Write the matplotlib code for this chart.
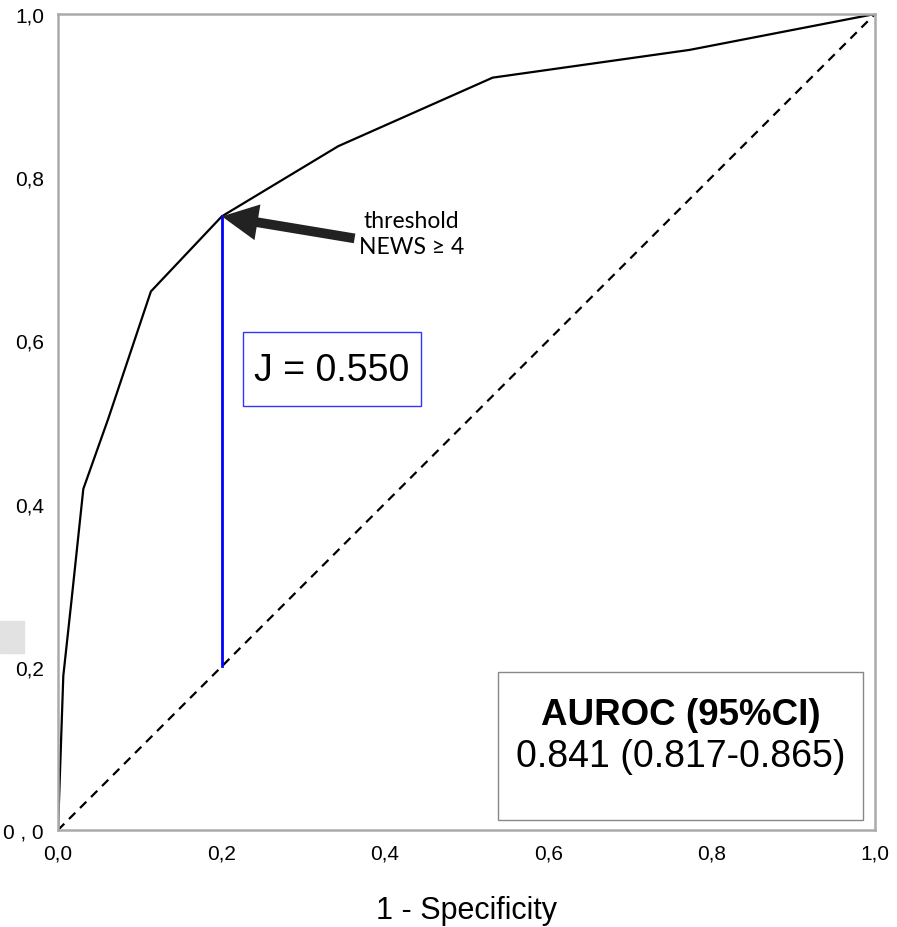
import matplotlib.pyplot as plt
from matplotlib.patches import Rectangle

plt.rcParams['font.family'] = ['Liberation Sans', 'DejaVu Sans']

# Puntos de la curva ROC (1 - especificidad, sensibilidad)
fpr = [0.0, 0.0065, 0.0167, 0.031, 0.0615, 0.1137, 0.2005, 0.343, 0.532, 0.773, 1.0]
tpr = [0.0, 0.189, 0.283, 0.418, 0.504, 0.660, 0.752, 0.838, 0.922, 0.956, 1.0]

x_ticks = [0.0, 0.2, 0.4, 0.6, 0.8, 1.0]
x_labels = ['0,0', '0,2', '0,4', '0,6', '0,8', '1,0']
y_ticks = [0.0, 0.2, 0.4, 0.6, 0.8, 1.0]
y_labels = ['0 , 0', '0,2', '0,4', '0,6', '0,8', '1,0']

thr_x, thr_y = 0.2005, 0.752
youden = 0.550
auroc, ci_lo, ci_hi = 0.841, 0.817, 0.865

fig = plt.figure(figsize=(8.97, 9.28), dpi=100)
ax = fig.add_axes([58 / 897, 97 / 928, 817 / 897, 816 / 928])

# artefacto gris a la izquierda
fig.patches.append(Rectangle((0, 1 - 654 / 928), 24 / 897, 32 / 928,
                             transform=fig.transFigure, color='#e2e2e2', zorder=0))

ax.plot([0, 1], [0, 1], color='black', lw=1.6, ls=(0, (4, 3)))
ax.plot(fpr, tpr, color='black', lw=1.6)
ax.plot([thr_x, thr_x], [thr_x, thr_y], color='#0000ff', lw=2)

ax.annotate('', xy=(thr_x, thr_y), xytext=(0.363, 0.725),
            arrowprops=dict(arrowstyle='simple,head_length=1.3,head_width=1.3,tail_width=0.35',
                            mutation_scale=20, fc='#222222', ec='none', shrinkA=0, shrinkB=0))
ax.text(0.433, 0.731, 'threshold\nNEWS ≥ 4', ha='center', va='center', fontsize=16.5,
        family=['Lato', 'DejaVu Sans'], linespacing=1.25)

ax.add_patch(Rectangle((0.227, 0.519), 0.217, 0.091, fill=False, ec='#3333ff', lw=1))
ax.text(0.335, 0.564, f'J = {youden:.3f}', ha='center', va='center', fontsize=27)

ax.add_patch(Rectangle((0.538, 0.012), 0.447, 0.182, fill=False, ec='#888888', lw=1))
ax.text(0.762, 0.142, 'AUROC (95%CI)', ha='center', va='center', fontsize=26.5, fontweight='bold')
ax.text(0.762, 0.091, f'{auroc:.3f} ({ci_lo:.3f}-{ci_hi:.3f})', ha='center', va='center', fontsize=27)

ax.set_xlim(0, 1)
ax.set_ylim(0, 1)
ax.set_xticks(x_ticks, x_labels)
ax.set_yticks(y_ticks, y_labels)
ax.tick_params(length=0, labelsize=15, pad=10)
for s in ax.spines.values():
    s.set_color('#aaaaaa')
    s.set_linewidth(1.8)
ax.set_xlabel('1 - Specificity', fontsize=22, labelpad=23)

fig.savefig('out.png', dpi=100)
